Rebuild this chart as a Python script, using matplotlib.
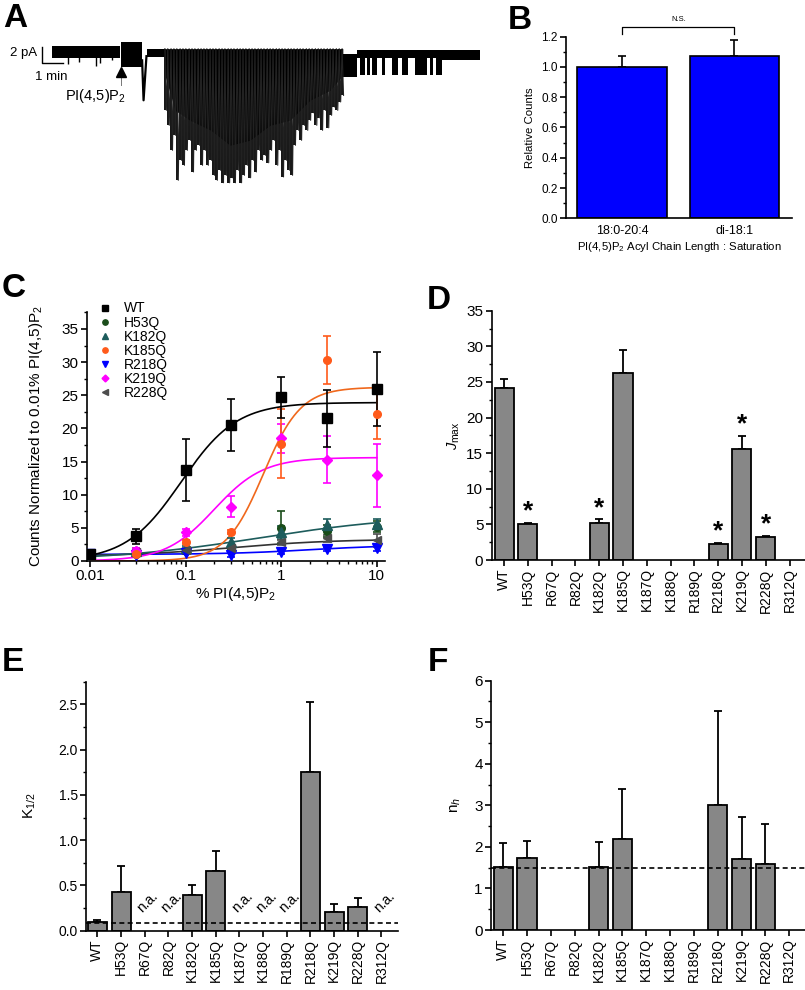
import numpy as np
import matplotlib
matplotlib.use('Agg')
import matplotlib.pyplot as plt
from matplotlib.ticker import MultipleLocator, LogLocator, NullFormatter, FormatStrFormatter
from matplotlib.lines import Line2D

plt.rcParams['font.family'] = ['Liberation Sans', 'DejaVu Sans']
plt.rcParams['mathtext.fontset'] = 'custom'
plt.rcParams['mathtext.rm'] = 'Liberation Sans'
plt.rcParams['mathtext.it'] = 'Liberation Sans:italic'
plt.rcParams['mathtext.bf'] = 'Liberation Sans:bold'

# ---------------- data ----------------
# Panel A: single-channel recording (time in s, current in pA)
a_band_start = [0, 192, 263, 806, 844, 1079]
a_band_end = [189, 250, 313, 844, 1079, 1184]
a_band_top = [0.7, 1.2, 0.4, -0.3, 0.2, 0.2]
a_band_bottom = [-0.7, -1.8, -0.6, -3.0, -0.7, -1.0]
a_dip_start = [853, 872, 886, 913, 941, 969, 1005, 1046, 1063]
a_dip_end = [867, 880, 900, 921, 957, 985, 1038, 1054, 1079]
a_dip_level = -2.8
a_small_t = [45, 75, 122, 134, 167]
a_small_i = [-1.4, -1.2, -1.7, -1.3, -1.0]
a_vspike_t = [250, 254, 262]
a_vspike_i = [-1.0, -5.8, -0.5]
a_dense_top = 0.4
a_dense_t = [313, 321, 330, 338, 346, 355, 363, 371, 380, 388, 396, 405, 413, 421, 429,
             438, 446, 454, 463, 471, 479, 488, 496, 504, 513, 521, 529, 537, 546, 554,
             562, 571, 579, 587, 596, 604, 612, 621, 629, 637, 645, 654, 662, 670, 679,
             687, 695, 704, 712, 720, 729, 737, 745, 753, 762, 770, 778, 787, 795, 803]
a_dense_i = [-7.0, -8.8, -11.8, -10.0, -15.4, -13.0, -13.6, -11.8, -10.6, -14.4, -11.8, -11.2,
             -13.6, -11.8, -13.6, -13.0, -14.8, -15.4, -14.2, -15.7, -14.8, -15.7, -15.1, -15.7,
             -14.2, -15.7, -14.8, -13.6, -15.1, -13.0, -14.4, -11.8, -13.0, -12.4, -13.3, -11.8,
             -10.6, -13.6, -11.8, -15.0, -13.0, -14.2, -14.8, -11.2, -9.4, -10.6, -8.8, -9.4,
             -8.2, -7.3, -8.8, -7.9, -9.4, -7.0, -9.1, -7.6, -6.6, -7.0, -6.0, -5.2]
a_core_t = [313, 341, 382, 440, 493, 548, 604, 659, 714, 770, 805]
a_core_i = [-2.8, -7.0, -8.2, -9.4, -11.2, -10.6, -8.8, -8.2, -5.8, -4.6, -2.8]

# Panel B
b_labels = ['18:0-20:4', 'di-18:1']
b_values = [1.0, 1.075]
b_errors = [0.07, 0.105]

# Panel C
c_conc = [0.01, 0.03, 0.1, 0.3, 1, 3, 10]
c_names = ['WT', 'H53Q', 'K182Q', 'K185Q', 'R218Q', 'K219Q', 'R228Q']
c_means = {
    'WT':    [1.0, 3.7, 13.7, 20.5, 24.7, 21.5, 25.9],
    'H53Q':  [1.0, 1.1, 1.5, 1.8, 5.0, 4.5, 5.2],
    'K182Q': [1.0, 1.5, 1.9, 2.9, 4.3, 5.5, 5.6],
    'K185Q': [1.0, 1.1, 2.9, 4.4, 17.7, 30.3, 22.2],
    'R218Q': [1.0, 0.9, 1.2, 0.9, 1.3, 1.8, 2.0],
    'K219Q': [1.0, 1.5, 4.3, 8.2, 18.5, 15.3, 12.9],
    'R228Q': [1.0, 1.3, 1.7, 2.0, 2.8, 3.4, 3.1],
}
c_errs = {
    'WT':    [0.3, 1.1, 4.7, 3.9, 3.1, 4.3, 5.6],
    'H53Q':  [0.2, 0.3, 0.3, 0.4, 2.5, 0.9, 0.8],
    'K182Q': [0.2, 0.4, 0.3, 0.6, 1.0, 0.8, 0.7],
    'K185Q': [0.2, 0.3, 0.3, 0.3, 5.2, 3.6, 3.8],
    'R218Q': [0.2, 0.2, 0.2, 0.3, 0.3, 0.3, 0.5],
    'K219Q': [0.2, 0.4, 0.5, 1.6, 2.2, 3.6, 4.8],
    'R228Q': [0.2, 0.3, 0.3, 0.3, 0.4, 0.5, 1.0],
}
# Hill fit parameters: baseline, Jmax, K1/2, nH
fit_names = ['R218Q', 'R228Q', 'K182Q', 'K219Q', 'K185Q', 'WT']
fit_base = [1.0, 0.7, 0.0, 0.0, 0.0, 0.0]
fit_jmax = [2.4, 3.3, 7.0, 15.6, 26.2, 23.9]
fit_k = [2.0, 0.3, 0.6, 0.2, 0.65, 0.09]
fit_n = [1.0, 0.8, 0.55, 1.7, 2.2, 1.5]

# Panels D, E, F
mutants = ['WT', 'H53Q', 'R67Q', 'R82Q', 'K182Q', 'K185Q', 'K187Q', 'K188Q',
           'R189Q', 'R218Q', 'K219Q', 'R228Q', 'R312Q']
jmax_vals = [24.2, 5.0, None, None, 5.25, 26.2, None, None, None, 2.2, 15.6, 3.2, None]
jmax_errs = [1.25, 0.25, None, None, 0.45, 3.3, None, None, None, 0.25, 1.85, 0.2, None]
jmax_signif = ['H53Q', 'K182Q', 'R218Q', 'K219Q', 'R228Q']
k_vals = [0.095, 0.43, None, None, 0.39, 0.655, None, None, None, 1.75, 0.21, 0.26, None]
k_errs = [0.02, 0.28, None, None, 0.11, 0.22, None, None, None, 0.78, 0.09, 0.105, None]
k_wt_line = 0.09
nh_vals = [1.52, 1.74, None, None, 1.52, 2.2, None, None, None, 3.02, 1.72, 1.6, None]
nh_errs = [0.58, 0.41, None, None, 0.6, 1.19, None, None, None, 2.24, 1.0, 0.96, None]
nh_wt_line = 1.5

# ---------------- figure ----------------
W, H = 805, 990
fig = plt.figure(figsize=(W / 100, H / 100), dpi=100)


def px_axes(l, t, r, b):
    return fig.add_axes([l / W, 1 - b / H, (r - l) / W, (b - t) / H])


def style(ax, size):
    for s in ['top', 'right']:
        ax.spines[s].set_visible(False)
    for s in ['left', 'bottom']:
        ax.spines[s].set_linewidth(1.2)
    ax.tick_params(axis='both', which='major', direction='out', length=4, width=1.2,
                   labelsize=size, pad=2)
    ax.tick_params(axis='both', which='minor', direction='out', length=2.5, width=1.0)


# Panel letters
for letter, (x, y) in {'A': (3, 3), 'B': (508, 5), 'C': (2, 273), 'D': (427, 285),
                       'E': (2, 647), 'F': (428, 647)}.items():
    fig.text(x / W, 1 - y / H, letter, fontsize=24, fontweight='bold', ha='left', va='top')

# ----- Panel A -----
axA = px_axes(0, 30, 490, 190)
axA.set_xlim(-143, 1212)
axA.set_ylim(-16.57, 2.64)
axA.axis('off')
for s, e, t, b in zip(a_band_start, a_band_end, a_band_top, a_band_bottom):
    axA.bar(s, t - b, width=e - s, bottom=b, align='edge', color='black', linewidth=0)
for s, e in zip(a_dip_start, a_dip_end):
    axA.bar(s, -0.7 - a_dip_level, width=e - s, bottom=a_dip_level, align='edge',
            color='black', linewidth=0)
axA.vlines(a_small_t, 0, a_small_i, color='black', lw=1.0)
axA.plot(a_vspike_t, a_vspike_i, color='black', lw=1.6)
axA.fill_between(a_core_t, a_dense_top, a_core_i, color='black', linewidth=0)
axA.vlines(a_dense_t, a_dense_top, a_dense_i, color='black', lw=1.3)
zx, zy = [], []
for t, i in zip(a_dense_t, a_dense_i):
    zx += [t, t + 4]
    zy += [a_dense_top, i]
axA.plot(zx, zy, color='#222222', lw=0.8)
axA.plot([-28, -28, 32], [0.64, -1.36, -1.36], color='black', lw=1.0)
axA.text(-40, -0.12, '2 pA', ha='right', va='center', fontsize=9.5)
axA.text(-2, -3.0, '1 min', ha='center', va='center', fontsize=9.5)
axA.plot([192, 192], [-3.0, -4.0], color='#777777', lw=0.7)
axA.plot(192, -2.46, marker='^', ms=7.5, color='black')
axA.text(122, -5.3, 'PI(4,5)P$_2$', ha='center', va='center', fontsize=10.5)

# ----- Panel B -----
axB = px_axes(566, 36.7, 791.7, 218.3)
style(axB, 8.5)
xb = np.arange(len(b_labels))
axB.bar(xb, b_values, width=0.8, color='#0000ff', edgecolor='black', linewidth=1.2, zorder=2)
axB.errorbar(xb, b_values, yerr=[np.zeros(len(b_errors)), b_errors], fmt='none',
             ecolor='black', elinewidth=1.2, capsize=3, capthick=1.2, zorder=1)
axB.set_xlim(-0.5, 1.51)
axB.set_ylim(0, 1.2)
axB.yaxis.set_major_locator(MultipleLocator(0.2))
axB.yaxis.set_minor_locator(MultipleLocator(0.1))
axB.yaxis.set_major_formatter(FormatStrFormatter('%.1f'))
axB.set_xticks(xb)
axB.set_xticklabels(b_labels, fontsize=9)
axB.tick_params(axis='x', length=0, pad=5)
axB.set_ylabel('Relative Counts', fontsize=8.2)
axB.yaxis.set_label_coords(-0.137, 0.5)
axB.set_xlabel('PI(4,5)P$_2$ Acyl Chain Length : Saturation', fontsize=8.2, labelpad=2)
axB.plot([0, 0, 1, 1], [1.22, 1.265, 1.265, 1.22], color='black', lw=0.9, clip_on=False)
axB.text(0.5, 1.29, 'N.S.', ha='center', va='bottom', fontsize=5.5)

# ----- Panel C -----
axC = px_axes(87, 311.7, 385, 561)
style(axC, 11)
axC.set_xscale('log')
axC.set_xlim(0.0093, 12.2)
axC.set_ylim(0, 37.6)
c_colors = {'WT': '#000000', 'H53Q': '#1a4d1a', 'K182Q': '#1d5c5c', 'K185Q': '#ff5a1a',
            'R218Q': '#0000ff', 'K219Q': '#ff00ff', 'R228Q': '#4d4d4d'}
c_line_colors = {'WT': '#000000', 'K182Q': '#1d5c5c', 'K185Q': '#f0681c',
                 'R218Q': '#0000ff', 'K219Q': '#ff00ff', 'R228Q': '#333333'}
c_markers = {'WT': 's', 'H53Q': 'o', 'K182Q': '^', 'K185Q': 'o', 'R218Q': 'v',
             'K219Q': 'D', 'R228Q': '<'}
c_ms = {'WT': 7, 'H53Q': 5.5, 'K182Q': 6.5, 'K185Q': 5.5, 'R218Q': 6.5, 'K219Q': 5, 'R228Q': 5.5}
xs = np.logspace(-2, 1, 400)
for name, b0, jm, kk, nn in zip(fit_names, fit_base, fit_jmax, fit_k, fit_n):
    h = xs ** nn / (kk ** nn + xs ** nn)
    axC.plot(xs, b0 + (jm - b0) * h, color=c_line_colors[name], lw=1.2, zorder=2)
draw_order = ['H53Q', 'K182Q', 'R218Q', 'R228Q', 'K219Q', 'K185Q', 'WT']
for name in draw_order:
    col = c_colors[name]
    axC.errorbar(c_conc, c_means[name], yerr=c_errs[name], fmt='none', ecolor=col,
                 elinewidth=1.2, capsize=3, capthick=1.2, zorder=3)
    axC.plot(c_conc, c_means[name], linestyle='none', marker=c_markers[name],
             ms=c_ms[name], color=col, markeredgecolor=col, zorder=4)
handles = [Line2D([], [], linestyle='none', marker=c_markers[n], ms=c_ms[n] * 0.7,
                  color=c_colors[n], label=n) for n in c_names]
axC.legend(handles=handles, loc='upper left', bbox_to_anchor=(98.5 / W, 1 - 301.5 / H),
           bbox_transform=fig.transFigure, frameon=False, fontsize=10, borderpad=0,
           handlelength=1.0, handletextpad=0.85, labelspacing=0.0, borderaxespad=0)
axC.set_xticks([0.01, 0.1, 1, 10])
axC.set_xticklabels(['0.01', '0.1', '1', '10'])
axC.xaxis.set_minor_locator(LogLocator(base=10, subs=np.arange(2, 10), numticks=20))
axC.xaxis.set_minor_formatter(NullFormatter())
axC.yaxis.set_major_locator(MultipleLocator(5))
axC.yaxis.set_minor_locator(MultipleLocator(2.5))
axC.set_xlabel('% PI(4,5)P$_2$', fontsize=11, labelpad=1)
axC.set_ylabel('Counts Normalized to 0.01% PI(4,5)P$_2$', fontsize=11)
axC.yaxis.set_label_coords(-0.141, 0.5)


# ----- Bar panels -----
def bar_panel(ax, vals, errs, ylim, major, minor, labelsize, ylabel, ylabel_size, lx):
    style(ax, labelsize)
    idx = [i for i, v in enumerate(vals) if v is not None]
    v = [vals[i] for i in idx]
    e = [errs[i] for i in idx]
    ax.bar(idx, v, width=0.8, color='#878787', edgecolor='black', linewidth=1.3, zorder=2)
    ax.errorbar(idx, v, yerr=[np.zeros(len(e)), e], fmt='none', ecolor='black',
                elinewidth=1.3, capsize=3, capthick=1.3, zorder=1)
    ax.set_ylim(*ylim)
    ax.yaxis.set_major_locator(MultipleLocator(major))
    ax.yaxis.set_minor_locator(MultipleLocator(minor))
    ax.set_xticks(range(len(mutants)))
    ax.set_xticklabels(mutants, rotation=90, fontsize=10)
    ax.set_ylabel(ylabel, fontsize=ylabel_size)
    ax.yaxis.set_label_coords(lx, 0.5)
    return idx


axD = px_axes(491.7, 310.7, 805, 560)
bar_panel(axD, jmax_vals, jmax_errs, (0, 35), 5, 2.5, 11, '$J_{\\mathrm{max}}$', 10.5, -0.095)
axD.set_xlim(-0.52, 12.65)
for name in jmax_signif:
    i = mutants.index(name)
    axD.text(i, jmax_vals[i] + jmax_errs[i] + 0.6, '*', ha='center', va='baseline',
             fontsize=19, fontweight='bold')

axE = px_axes(86, 681.7, 398, 930.7)
bar_panel(axE, k_vals, k_errs, (0, 2.75), 0.5, 0.25, 10, 'K$_{1/2}$', 11, -0.154)
axE.set_xlim(-0.48, 12.7)
axE.yaxis.set_major_formatter(FormatStrFormatter('%.1f'))
axE.axhline(k_wt_line, color='black', lw=1.2, ls=(0, (3, 2)), zorder=3)
for i, v in enumerate(k_vals):
    if v is None:
        axE.text(i + 0.12, 0.32, 'n.a.', rotation=45, ha='center', va='center', fontsize=10)

axF = px_axes(491, 680.7, 805, 930)
bar_panel(axF, nh_vals, nh_errs, (0, 6), 1, 0.5, 11, 'n$_{h}$', 11, -0.089)
axF.set_xlim(-0.51, 12.66)
axF.axhline(nh_wt_line, color='black', lw=1.2, ls=(0, (3, 2)), zorder=3)

fig.savefig('out.png', dpi=100)
